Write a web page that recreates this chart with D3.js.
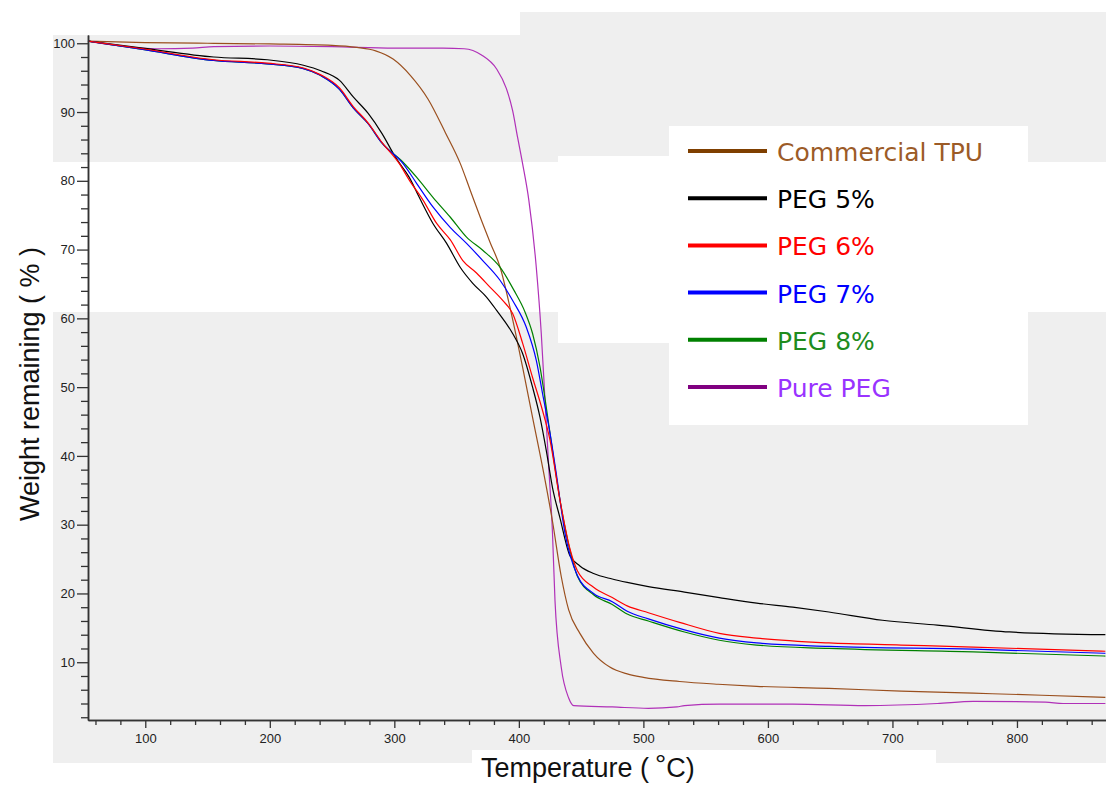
<!DOCTYPE html>
<html>
<head>
<meta charset="utf-8">
<script src="https://cdn.jsdelivr.net/npm/d3@7"></script>
<style>
  html, body { margin: 0; padding: 0; background: #ffffff; }
  svg { display: block; }
</style>
</head>
<body>
<svg id="chart" width="1106" height="785"></svg>
<script>
// ---------------- DATA ----------------
const seriesNames = ["Commercial TPU", "PEG 5%", "PEG 6%", "PEG 7%", "PEG 8%", "Pure PEG"];

const tpuTemp = [54, 100, 150, 200, 250, 270, 285, 299, 313, 327, 341, 353, 361, 369, 377, 385, 393, 403, 411, 419, 427, 434, 440, 449, 460, 473, 487, 500, 529, 560, 591, 649, 707, 765, 820, 871];
const tpuWeight = [100.3, 100.1, 100.0, 99.9, 99.7, 99.4, 98.9, 97.7, 95.3, 91.9, 87.0, 82.5, 78.6, 74.7, 71.0, 67.4, 61.5, 52.9, 45.6, 38.4, 30.5, 22.5, 17.6, 14.2, 11.3, 9.3, 8.3, 7.8, 7.2, 6.8, 6.5, 6.2, 5.8, 5.5, 5.2, 4.9];

const peg5Temp = [54, 98, 155, 198, 227, 241, 256, 267, 279, 290, 301, 312, 320, 331, 342, 353, 363, 374, 382, 395, 403, 411, 417, 422, 427, 433, 441, 449, 460, 475, 487, 504, 533, 561, 591, 620, 649, 692, 736, 794, 871];
const peg5Weight = [100.3, 99.3, 98.0, 97.6, 96.8, 96.0, 94.6, 92.2, 89.8, 86.9, 83.4, 80.5, 77.6, 73.8, 70.9, 67.4, 65.1, 63.1, 61.2, 57.8, 54.9, 50.0, 45.6, 40.8, 35.4, 31.0, 25.5, 24.0, 22.9, 22.1, 21.6, 21.0, 20.2, 19.4, 18.6, 18.0, 17.3, 16.1, 15.4, 14.4, 14.0];

const peg6Temp = [54, 98, 155, 198, 227, 241, 256, 267, 279, 290, 304, 312, 323, 334, 345, 355, 366, 377, 387, 395, 403, 411, 419, 425, 433, 441, 447, 460, 475, 487, 504, 529, 561, 591, 649, 707, 765, 871];
const peg6Weight = [100.3, 99.2, 97.6, 97.1, 96.4, 95.4, 93.5, 90.8, 88.4, 85.6, 82.5, 80.1, 77.2, 73.8, 71.4, 68.4, 66.6, 64.5, 62.6, 60.7, 56.4, 51.4, 46.6, 42.3, 33.6, 26.5, 23.3, 20.9, 19.4, 18.2, 17.2, 15.8, 14.2, 13.5, 12.8, 12.5, 12.2, 11.6];

const peg7Temp = [54, 98, 155, 198, 227, 241, 256, 267, 279, 290, 307, 318, 331, 345, 358, 371, 385, 395, 406, 414, 419, 425, 430, 437, 447, 460, 475, 487, 504, 533, 561, 591, 649, 765, 871];
const peg7Weight = [100.3, 99.1, 97.5, 97.0, 96.3, 95.3, 93.3, 90.6, 88.3, 85.5, 82.5, 79.6, 76.2, 73.2, 70.9, 68.4, 65.5, 62.6, 58.7, 53.9, 49.1, 43.3, 37.5, 28.8, 22.6, 20.0, 18.8, 17.4, 16.3, 14.7, 13.5, 12.8, 12.3, 11.9, 11.3];

const peg8Temp = [54, 98, 155, 198, 227, 241, 256, 267, 279, 290, 307, 318, 331, 345, 358, 371, 385, 396, 405, 411, 417, 422, 427, 433, 441, 447, 460, 475, 487, 504, 533, 561, 591, 649, 765, 871];
const peg8Weight = [100.3, 99.1, 97.5, 97.0, 96.3, 95.3, 93.3, 90.6, 88.3, 85.5, 82.7, 80.5, 77.6, 74.7, 71.8, 69.9, 67.4, 64.1, 60.9, 57.8, 52.9, 47.1, 40.8, 33.6, 26.3, 22.5, 19.8, 18.4, 17.0, 16.0, 14.4, 13.2, 12.5, 12.0, 11.5, 10.9];

const pureTemp = [54, 80, 110, 138, 155, 200, 250, 300, 339, 356, 370, 382, 390, 395, 399, 403, 408, 414, 418, 421, 424, 427, 429, 434, 440, 444, 475, 504, 527, 533, 561, 620, 678, 736, 765, 823, 837, 871];
const pureWeight = [100.3, 99.6, 99.2, 99.3, 99.5, 99.6, 99.5, 99.3, 99.3, 99.2, 98.3, 96.3, 93.4, 90.2, 86.3, 82.5, 77.2, 67.4, 57.8, 48.1, 38.4, 28.8, 19.0, 9.3, 4.8, 3.7, 3.5, 3.3, 3.5, 3.7, 3.9, 3.9, 3.7, 4.0, 4.3, 4.2, 4.0, 4.0];

const xMajorTicks = [100, 200, 300, 400, 500, 600, 700, 800];
const yMajorTicks = [10, 20, 30, 40, 50, 60, 70, 80, 90, 100];

// ---------------- STYLE ----------------
const curveColors = ["#9a4f1e", "#000000", "#ff0000", "#0000ff", "#008000", "#b030b8"];
const legendLineColors = ["#7f3f00", "#000000", "#ff0000", "#0000ff", "#008000", "#800080"];
const legendTextColors = ["#9c5b27", "#000000", "#ff0000", "#0000ff", "#1e8c1e", "#9933ff"];
const GRAY = "#efefef";

const svg = d3.select("#chart");

// Background patches (collage-like reference)
const bg = svg.append("g");
[
  [53, 35, 467, 127],   // top-left gray
  [520, 12, 586, 150],  // top-right gray
  [53, 312, 1053, 451]  // lower gray
].forEach(r => bg.append("rect").attr("x", r[0]).attr("y", r[1]).attr("width", r[2]).attr("height", r[3]).attr("fill", GRAY));
[
  [558, 156, 111, 187], // white patch near legend
  [669, 126, 359, 299], // legend box
  [472, 750, 464, 35]   // x title box
].forEach(r => bg.append("rect").attr("x", r[0]).attr("y", r[1]).attr("width", r[2]).attr("height", r[3]).attr("fill", "#ffffff"));

// ---------------- SCALES ----------------
const x = d3.scaleLinear().domain([54, 871.5]).range([88, 1106]);
const y = d3.scaleLinear().domain([1.6, 101.2]).range([720, 35]);

// ---------------- CURVES ----------------
const temps = [tpuTemp, peg5Temp, peg6Temp, peg7Temp, peg8Temp, pureTemp];
const weights = [tpuWeight, peg5Weight, peg6Weight, peg7Weight, peg8Weight, pureWeight];
const line = d3.line().x(d => x(d[0])).y(d => y(d[1])).curve(d3.curveMonotoneX);

const drawOrder = [5, 0, 1, 4, 3, 2];
const curvesG = svg.append("g");
drawOrder.forEach(i => {
  const pts = temps[i].map((t, k) => [t, weights[i][k]]);
  curvesG.append("path")
    .datum(pts)
    .attr("d", line)
    .attr("fill", "none")
    .attr("stroke", curveColors[i])
    .attr("stroke-width", 1.2)
    .attr("stroke-linejoin", "round");
});

// ---------------- AXES ----------------
const axisColor = "#333";
const xMinor = d3.range(60, 871, 20).filter(v => v % 100 !== 0);
const yMinor = d3.range(2, 101, 2).filter(v => v % 10 !== 0);

const xAxisG = svg.append("g").attr("transform", "translate(0,720)");
xAxisG.call(d3.axisBottom(x).tickValues(xMinor).tickSize(5).tickSizeOuter(0).tickFormat(""));
xAxisG.append("g").call(d3.axisBottom(x).tickValues(xMajorTicks).tickSize(8).tickPadding(6).tickSizeOuter(0));

const yAxisG = svg.append("g").attr("transform", "translate(88,0)");
yAxisG.call(d3.axisLeft(y).tickValues(yMinor).tickSize(7).tickSizeOuter(0).tickFormat(""));
yAxisG.append("g").call(d3.axisLeft(y).tickValues(yMajorTicks).tickSize(11).tickPadding(2).tickSizeOuter(0));

svg.selectAll(".domain").attr("stroke", axisColor).attr("stroke-width", 1.5);
svg.selectAll(".tick line").attr("stroke", axisColor).attr("stroke-width", 1.3);
svg.selectAll(".tick text")
  .attr("font-family", "'Liberation Sans', Arial, sans-serif")
  .attr("font-size", 13)
  .attr("fill", "#222");

// ---------------- AXIS TITLES ----------------
svg.append("text")
  .attr("transform", "translate(39,384) rotate(-90)")
  .attr("text-anchor", "middle")
  .attr("font-family", "'Liberation Sans', Arial, sans-serif")
  .attr("font-size", 27)
  .attr("fill", "#111")
  .text("Weight remaining ( % )");

const xt = svg.append("text")
  .attr("x", 481)
  .attr("y", 777)
  .attr("font-family", "'Liberation Sans', Arial, sans-serif")
  .attr("font-size", 27)
  .attr("fill", "#111");
xt.append("tspan").text("Temperature (");
xt.append("tspan").attr("dx", 6).attr("dy", -3).attr("font-size", 28).text("°");
xt.append("tspan").attr("dx", 0).attr("dy", 3).text("C)");

// ---------------- LEGEND ----------------
const legend = svg.append("g");
seriesNames.forEach((name, i) => {
  const cy = 151 + i * 47.2;
  legend.append("line")
    .attr("x1", 688).attr("x2", 767)
    .attr("y1", cy).attr("y2", cy)
    .attr("stroke", legendLineColors[i])
    .attr("stroke-width", 4);
  legend.append("text")
    .attr("x", 777).attr("y", cy + 3)
    .attr("dominant-baseline", "middle")
    .attr("font-family", "'DejaVu Sans', Verdana, sans-serif")
    .attr("font-size", 25)
    .attr("fill", legendTextColors[i])
    .text(name);
});
</script>
</body>
</html>
